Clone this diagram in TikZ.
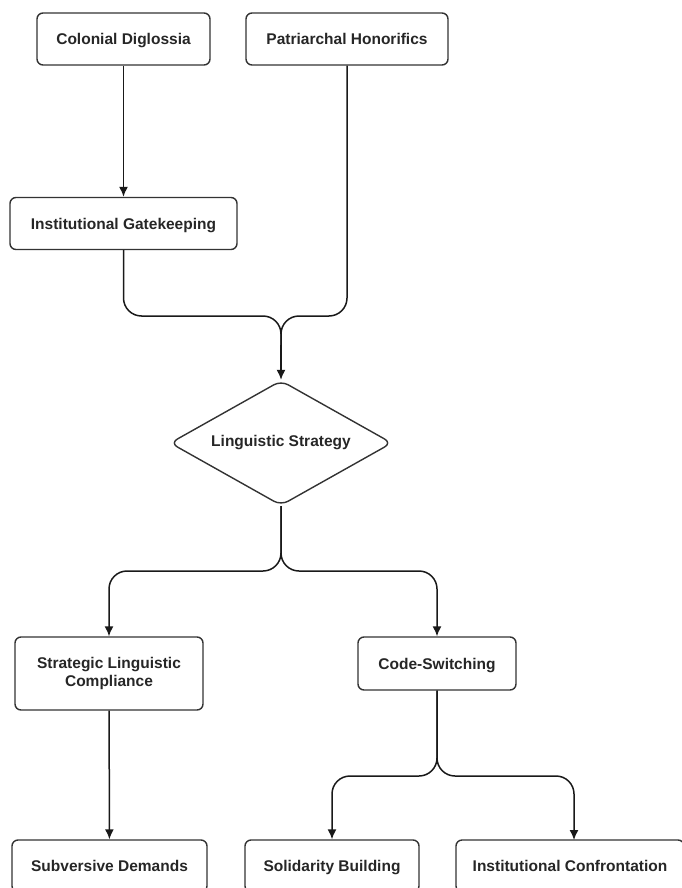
\documentclass[tikz,border=0pt]{standalone}
\usepackage{fontspec}
\setmainfont{Liberation Sans}
\usetikzlibrary{arrows.meta,shapes.geometric}

\begin{document}
\begin{tikzpicture}[x=1pt,y=-1pt,>={Latex[length=10pt,width=9pt]},
  every node/.style={font=\fontsize{15.5}{18}\selectfont\bfseries,text=black!85},
  box/.style={draw=black!80,line width=1.4pt,rounded corners=6pt,align=center,inner sep=2pt,text height=11pt,text depth=0pt},
  choice/.style={draw=black!80,line width=1.4pt,diamond,rounded corners=8pt,inner sep=0pt,aspect=1.8},
  flow/.style={draw=black!90,line width=1.5pt,rounded corners=18pt}]
\useasboundingbox (0,0) rectangle (681,888);
\node[box,minimum width=173pt,minimum height=52pt] (cd) at (123.5,39) {Colonial Diglossia};
\node[box,minimum width=202pt,minimum height=52pt] (ph) at (347,39) {Patriarchal Honorifics};
\node[box,minimum width=227pt,minimum height=52pt] (ig) at (123.5,223.5) {Institutional Gatekeeping};
\node[choice,minimum width=222pt,minimum height=125pt] (ls) at (281,443) {Linguistic Strategy};
\node[box,minimum width=188pt,minimum height=73pt,text height=,text depth=] (slc) at (109,673.5) {Strategic Linguistic\\Compliance};
\node[box,minimum width=158pt,minimum height=53pt] (cs) at (437,663.5) {Code-Switching};
\node[box,minimum width=195pt,minimum height=52pt] (sd) at (109.5,866) {Subversive Demands};
\node[box,minimum width=174pt,minimum height=52pt] (sb) at (332,866) {Solidarity Building};
\node[box,minimum width=228pt,minimum height=52pt] (ic) at (570,866) {Institutional Confrontation};
% merge points
\coordinate (m1) at (281,345);
\draw[->,flow] (cd) -- (ig);
\draw[flow] (ig.south) -- (123.5,316) -- (281,316) -- (m1);
\draw[flow] (ph.south) -- (347,316) -- (281,316) -- (m1);
\draw[->,flow] (m1) -- (ls.north);
\draw[->,flow] (ls.south) -- (281,571) -- (109,571) -- (slc.north);
\draw[->,flow] (ls.south) -- (281,571) -- (437,571) -- (cs.north);
\draw[->,flow] (slc) -- (sd);
\draw[->,flow] (cs.south) -- (437,776) -- (332,776) -- (sb.north);
\draw[->,flow] (cs.south) -- (437,776) -- (574,776) -- (574,840);
\end{tikzpicture}
\end{document}
